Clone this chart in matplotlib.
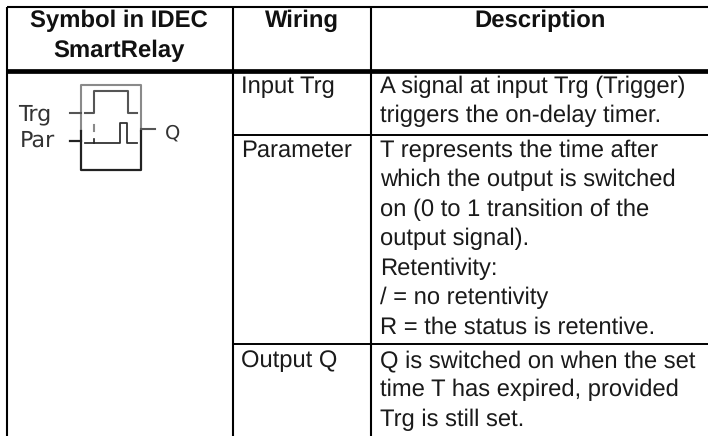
import matplotlib
matplotlib.use("Agg")
import matplotlib.pyplot as plt

# Table text
header_left = ["Symbol in IDEC", "SmartRelay"]
header_wiring = "Wiring"
header_desc = "Description"
wiring = ["Input Trg", "Parameter", "Output Q"]
desc_lines = [
    ["A signal at input Trg (Trigger)", "triggers the on-delay timer."],
    ["T represents the time after", "which the output is switched", "on (0 to 1 transition of the",
     "output signal).", "Retentivity:", "/ = no retentivity", "R = the status is retentive."],
    ["Q is switched on when the set", "time T has expired, provided", "Trg is still set."],
]
row_baseline = [93, 157, 367]

plt.rcParams['font.family'] = ['Liberation Sans', 'DejaVu Sans']
plt.rcParams['text.hinting'] = 'no_hinting'

W, H = 708, 436
fig = plt.figure(figsize=(W / 100, H / 100), dpi=100)
ax = fig.add_axes([0, 0, 1, 1])
ax.set_xlim(0, W)
ax.set_ylim(H, 0)
ax.axis("off")

# grid lines, no right border in the reference
X0, X1, X2, X3 = 6.5, 232.5, 371, 708
Y0, Y1, Y2, Y3 = 7, 71.5, 135, 344
ax.plot([X0, X3], [Y0, Y0], color="black", lw=1.5, solid_capstyle="butt")
ax.plot([X0, X3], [Y1, Y1], color="black", lw=3.4, solid_capstyle="butt")
ax.plot([X1, X3], [Y2, Y2], color="black", lw=1.4, solid_capstyle="butt")
ax.plot([X1, X3], [Y3, Y3], color="black", lw=1.4, solid_capstyle="butt")
for x in [X0, X1, X2]:
    ax.plot([x, x], [Y0, H], color="black", lw=1.5, solid_capstyle="butt")

# header
bold = dict(fontsize=17.2, fontweight="bold", va="baseline", ha="center", color="#111111")
ax.text(119, 27, header_left[0], **bold)
ax.text(119, 57, header_left[1], **bold)
ax.text(301.5, 27, header_wiring, **bold)
ax.text(540, 27, header_desc, **bold)

# body text
body = dict(fontsize=17.1, va="baseline", ha="left", color="#1a1a1a")
for w, lines, y0 in zip(wiring, desc_lines, row_baseline):
    ax.text(241, y0, w, **body)
    for i, line in enumerate(lines):
        ax.text(380, y0 + i * 29.4, line, **body)

# symbol box, upper part grey and lower part dark
grey = "#8a8a8a"
dark = "#222222"
ax.plot([81, 81, 141, 141], [131, 85, 85, 131], color=grey, lw=1.5)
ax.plot([81, 81, 141, 141], [131, 170, 170, 131], color=dark, lw=1.6)
# trigger pulse
ax.plot([85, 94, 94, 128, 128, 137], [113, 113, 91, 91, 113, 113], color="#555555", lw=1.5)
# output pulse
ax.plot([85, 120, 120, 127, 127, 137], [143, 143, 123, 123, 143, 143], color="#333333", lw=1.3)
ax.plot([94, 94], [125, 131], color=grey, lw=1.5)
ax.plot([94, 94], [139, 143], color=dark, lw=1.2)
# pins
ax.plot([70, 81], [113, 113], color="#555555", lw=1.5)
ax.plot([70, 81], [141, 141], color="#222222", lw=1.6)
ax.plot([141, 155], [129, 129], color="#555555", lw=1.5)
pix = dict(fontsize=16, va="baseline", ha="left", color="#333333", family="DejaVu Sans")
ax.text(18, 120, "Trg", **pix)
ax.text(20, 147, "Par", **pix)
ax.text(165, 139, "Q", **{**pix, "fontsize": 14})

fig.savefig("out.png", dpi=100)
